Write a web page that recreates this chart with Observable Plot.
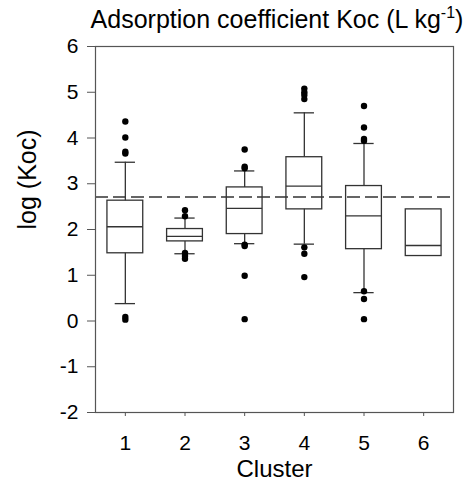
<!DOCTYPE html>
<html>
<head>
<meta charset="utf-8">
<script src="https://cdn.jsdelivr.net/npm/d3@7"></script>
<script src="https://cdn.jsdelivr.net/npm/@observablehq/plot@0.6"></script>
<style>
  body { margin: 0; background: white; }
  #chart svg { display: block; }
</style>
</head>
<body>
<div id="chart"></div>
<script>
// Data
const clusters = [1, 2, 3, 4, 5, 6];
const q1 = [1.48, 1.74, 1.90, 2.44, 1.57, 1.42];
const medians = [2.06, 1.85, 2.46, 2.95, 2.30, 1.65];
const q3 = [2.63, 2.01, 2.92, 3.58, 2.95, 2.44];
const whiskerLow = [0.38, 1.47, 1.69, 1.68, 0.62, null];
const whiskerHigh = [3.47, 2.25, 3.28, 4.55, 3.88, null];
const outlierCluster = [1, 1, 1, 1, 1, 1,
                        2, 2, 2, 2, 2,
                        3, 3, 3, 3, 3, 3, 3,
                        4, 4, 4, 4, 4, 4, 4,
                        5, 5, 5, 5, 5, 5, 5];
const outlierValue = [4.36, 4.01, 3.70, 3.66, 0.09, 0.03,
                      2.42, 2.29, 1.49, 1.42, 1.36,
                      3.75, 3.37, 3.34, 1.67, 1.64, 0.99, 0.04,
                      5.08, 5.00, 4.94, 4.85, 1.61, 1.47, 0.96,
                      4.70, 4.23, 3.98, 3.94, 0.65, 0.48, 0.04];
const threshold = 2.71;
const yTicks = [-2, -1, 0, 1, 2, 3, 4, 5, 6];

const boxes = clusters.map((c, i) => ({
  c, q1: q1[i], med: medians[i], q3: q3[i], lo: whiskerLow[i], hi: whiskerHigh[i]
}));
const withWhiskers = boxes.filter(d => d.lo != null);
const outliers = outlierValue.map((v, i) => ({c: outlierCluster[i], v}));

const W = 0.30, CAP = 0.17;
const font = "'Liberation Sans', Arial, Helvetica, sans-serif";
const ink = "#333";

const chart = Plot.plot({
  width: 469,
  height: 486,
  marginLeft: 95,
  marginRight: 16,
  marginTop: 46,
  marginBottom: 74,
  style: {fontFamily: font, fontSize: "21px", color: "black", background: "white", overflow: "visible"},
  x: {domain: [0.5, 6.5]},
  y: {domain: [-2, 6]},
  marks: [
    Plot.axisY({ticks: yTicks, tickFormat: d => String(d), tickSize: 8, tickPadding: 9, label: null, stroke: "#555", fill: "black", fontSize: 21}),
    Plot.axisX({ticks: clusters, tickFormat: d => String(d), tickSize: 4, tickPadding: 19, label: null, stroke: "#555", fill: "black", fontSize: 21}),
    Plot.ruleY([threshold], {stroke: "#333", strokeWidth: 1.3, strokeDasharray: "13,5"}),
    Plot.ruleX(withWhiskers, {x: "c", y1: "q3", y2: "hi", stroke: ink, strokeWidth: 1.3}),
    Plot.ruleX(withWhiskers, {x: "c", y1: "lo", y2: "q1", stroke: ink, strokeWidth: 1.3}),
    Plot.ruleY(withWhiskers, {y: "hi", x1: d => d.c - CAP, x2: d => d.c + CAP, stroke: ink, strokeWidth: 1.3}),
    Plot.ruleY(withWhiskers, {y: "lo", x1: d => d.c - CAP, x2: d => d.c + CAP, stroke: ink, strokeWidth: 1.3}),
    Plot.rect(boxes, {x1: d => d.c - W, x2: d => d.c + W, y1: "q1", y2: "q3", fill: "none", stroke: ink, strokeWidth: 1.3}),
    Plot.ruleY(boxes, {y: "med", x1: d => d.c - W, x2: d => d.c + W, stroke: ink, strokeWidth: 1.3}),
    Plot.dot(outliers, {x: "c", y: "v", r: 3.2, fill: "black", stroke: null}),
    Plot.frame({stroke: "#555", strokeWidth: 1.2}),
    Plot.text(["Cluster"], {frameAnchor: "bottom", dy: 64, fontSize: 24, fill: "black", lineAnchor: "bottom"}),
    Plot.text(["log (Koc)"], {frameAnchor: "left", dx: -68, rotate: -90, fontSize: 25, fill: "black"})
  ]
});

// Title with superscript
const svg = d3.select(chart);
const t = svg.append("text")
  .attr("x", 277)
  .attr("y", 28)
  .attr("text-anchor", "middle")
  .attr("font-family", font)
  .attr("font-size", 25)
  .attr("fill", "black");
t.append("tspan").text("Adsorption coefficient Koc (L kg");
t.append("tspan").attr("dy", -10).attr("font-size", 16).text("-1");
t.append("tspan").attr("dy", 10).text(")");

document.getElementById("chart").appendChild(chart);
</script>
</body>
</html>
